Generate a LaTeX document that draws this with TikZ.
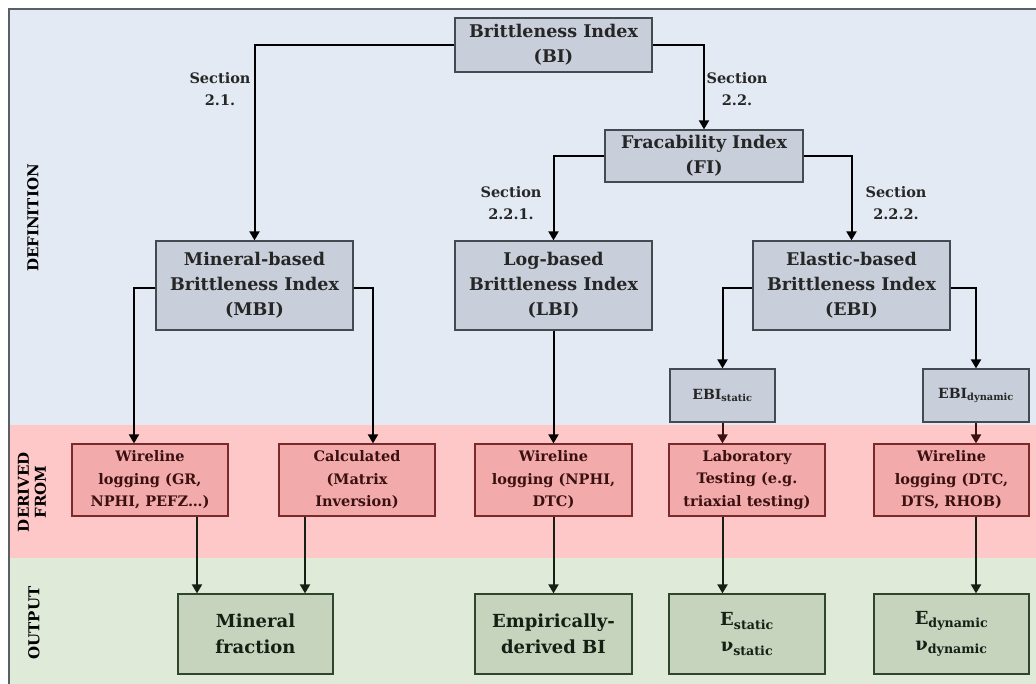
\documentclass[tikz,border=0pt]{standalone}
\usepackage{fontspec}
\setmainfont{DejaVu Serif}
\usetikzlibrary{arrows.meta,calc}
\definecolor{bandblue}{HTML}{E4EAF4}
\definecolor{bandred}{HTML}{FFC8C8}
\definecolor{bandgreen}{HTML}{DFEBD8}
\definecolor{grayfill}{HTML}{C8CFDA}
\definecolor{grayline}{HTML}{454A52}
\definecolor{redfill}{HTML}{F2AAAA}
\definecolor{redline}{HTML}{7A2A2A}
\definecolor{redtext}{HTML}{3A1010}
\definecolor{greenfill}{HTML}{C6D4BE}
\definecolor{greenline}{HTML}{2E452E}
\definecolor{greentext}{HTML}{142014}
\definecolor{framegray}{HTML}{5A5E66}
\tikzset{
  graybox/.style={draw=grayline, fill=grayfill, line width=1.2pt, align=center, inner sep=0pt,
    font=\fontsize{17.5}{25}\selectfont\bfseries, text=black!85},
  redbox/.style={draw=redline, fill=redfill, line width=1.2pt, align=center, inner sep=0pt,
    minimum height=72pt, font=\fontsize{14.5}{22.5}\selectfont\bfseries, text=redtext},
  greenbox/.style={draw=greenline, fill=greenfill, line width=1.2pt, align=center, inner sep=0pt,
    minimum height=80pt, font=\fontsize{18}{26}\selectfont\bfseries, text=greentext},
  seclabel/.style={align=center, inner sep=0pt, font=\fontsize{14.5}{22}\selectfont\bfseries, text=black!85},
  sidelabel/.style={align=center, inner sep=0pt, rotate=90, font=\fontsize{15}{17}\selectfont\bfseries},
  conn/.style={line width=2pt, -{Triangle[length=9pt,width=10pt]}},
}
\begin{document}
\begin{tikzpicture}[x=1pt,y=-1pt]
\useasboundingbox (0,0) rectangle (1036,684);
% bands
\fill[bandblue] (9,9) rectangle (1036,425);
\fill[bandred] (9,425) rectangle (1036,558);
\fill[bandgreen] (9,558) rectangle (1036,684);
\draw[framegray, line width=1.5pt] (9,684) -- (9,9) -- (1036,9);
% side labels
\node[sidelabel] (ldef) at (33,218) {DEFINITION};
\node[sidelabel] (lder) at (32,492) {DERIVED\\FROM};
\node[sidelabel] (lout) at (34,623) {OUTPUT};
% definition boxes
\node[graybox, minimum width=197pt, minimum height=54pt] (BI) at (553.5,45) {Brittleness Index\\(BI)};
\node[graybox, minimum width=198pt, minimum height=52pt] (FI) at (704,156) {Fracability Index\\(FI)};
\node[graybox, minimum width=197pt, minimum height=89pt] (MBI) at (254.5,285.5) {Mineral-based\\Brittleness Index\\(MBI)};
\node[graybox, minimum width=197pt, minimum height=89pt] (LBI) at (553.5,285.5) {Log-based\\Brittleness Index\\(LBI)};
\node[graybox, minimum width=197pt, minimum height=89pt] (EBI) at (851.5,285.5) {Elastic-based\\Brittleness Index\\(EBI)};
\node[graybox, minimum width=105pt, minimum height=53pt, font=\fontsize{14}{18}\selectfont\bfseries] (EBIs) at (722.5,395.5) {EBI\textsubscript{static}};
\node[graybox, minimum width=106pt, minimum height=53pt, font=\fontsize{14}{18}\selectfont\bfseries] (EBId) at (976,395.5) {EBI\textsubscript{dynamic}};
% derived boxes
\node[redbox, minimum width=156pt] (W1) at (150,480) {Wireline\\logging (GR,\\NPHI, PEFZ\dots)};
\node[redbox, minimum width=156pt] (Calc) at (357,480) {Calculated\\(Matrix\\Inversion)};
\node[redbox, minimum width=157pt] (W2) at (553.5,480) {Wireline\\logging (NPHI,\\DTC)};
\node[redbox, minimum width=156pt] (Lab) at (747,480) {Laboratory\\Testing (e.g.\\triaxial testing)};
\node[redbox, minimum width=155pt] (W3) at (951.5,480) {Wireline\\logging (DTC,\\DTS, RHOB)};
% output boxes
\node[greenbox, minimum width=155pt] (Min) at (255.5,634) {Mineral\\fraction};
\node[greenbox, minimum width=157pt] (Emp) at (553.5,634) {Empirically-\\derived BI};
\node[greenbox, minimum width=156pt] (Est) at (747,634) {E\textsubscript{static}\\ν\textsubscript{static}};
\node[greenbox, minimum width=155pt] (Edy) at (951.5,634) {E\textsubscript{dynamic}\\ν\textsubscript{dynamic}};
% section labels
\node[seclabel] (s21) at (220,89) {Section\\2.1.};
\node[seclabel] (s22) at (737,89) {Section\\2.2.};
\node[seclabel] (s221) at (511,203) {Section\\2.2.1.};
\node[seclabel] (s222) at (896,203) {Section\\2.2.2.};
% connectors
\draw[conn] (BI.west) -| (MBI.north);
\draw[conn] (BI.east) -| (FI.north);
\draw[conn] (FI.west) -| (LBI.north);
\draw[conn] (FI.east) -| (EBI.north);
\draw[conn] ([yshift=-2.5pt]MBI.west) -| ([xshift=-16pt]W1.north);
\draw[conn] ([yshift=-2.5pt]MBI.east) -| ([xshift=16pt]Calc.north);
\draw[conn] (LBI.south) -- (W2.north);
\draw[conn] ([yshift=-2.5pt]EBI.west) -| (EBIs.north);
\draw[conn] ([yshift=-2.5pt]EBI.east) -| (EBId.north);
\draw[conn, draw=redtext, fill=redtext] (EBIs.south) -- (EBIs.south |- Lab.north);
\draw[conn, draw=redtext, fill=redtext] (EBId.south) -- (EBId.south |- W3.north);
\draw[conn, draw=greentext] ([xshift=47pt]W1.south) -- ([xshift=47pt]W1.south |- Min.north);
\draw[conn, draw=greentext] ([xshift=-52pt]Calc.south) -- ([xshift=-52pt]Calc.south |- Min.north);
\draw[conn, draw=greentext] (W2.south) -- (Emp.north);
\draw[conn, draw=greentext] (EBIs.south |- Lab.south) -- (EBIs.south |- Est.north);
\draw[conn, draw=greentext] (EBId.south |- W3.south) -- (EBId.south |- Edy.north);
\end{tikzpicture}
\end{document}
